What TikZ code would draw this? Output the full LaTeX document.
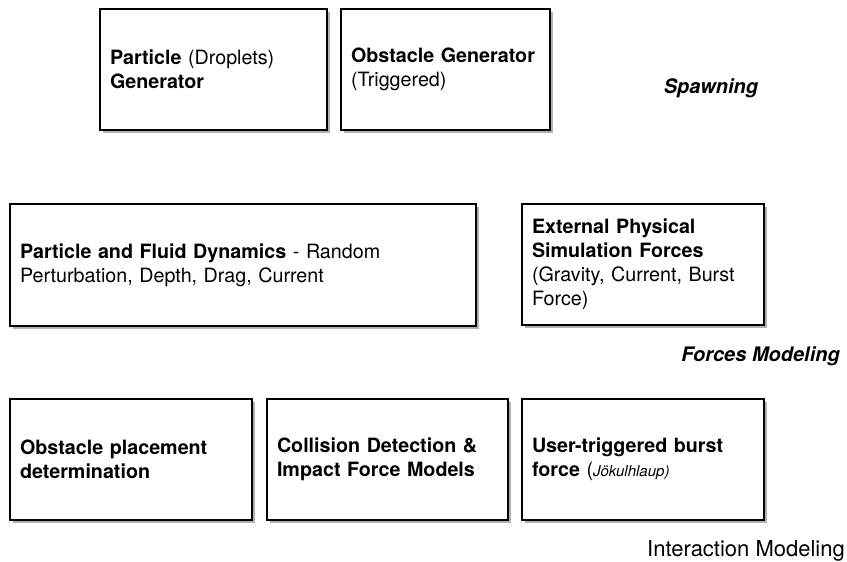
\documentclass[tikz,border=0pt]{standalone}
\usepackage{fontspec}
\setmainfont{TeX Gyre Heros}
\usetikzlibrary{shadows}
\begin{document}
\begin{tikzpicture}[x=1pt,y=-1pt,
  box/.style={draw, line width=1.4pt, fill=white, align=left, inner xsep=10pt, inner ysep=4pt,
    minimum height=121pt, drop shadow={shadow xshift=2.5pt, shadow yshift=-3pt, opacity=0.5, fill=black!60},
    font=\fontsize{19.7}{24}\selectfont},
  lbl/.style={inner sep=0pt, font=\fontsize{20}{24}\selectfont}]
\useasboundingbox (0,0) rectangle (847,562);
\node[box, text width=207pt] (pg) at (213.5,69.5) {\textbf{Particle} (Droplets)\\\textbf{Generator}};
\node[box, text width=189pt] (og) at (445.5,69.5) {\textbf{Obstacle Generator}\\(Triggered)};
\node[box, text width=446pt, minimum height=122pt] (pf) at (243,265) {\textbf{Particle and Fluid Dynamics} - Random\\Perturbation, Depth, Drag, Current};
\node[box, text width=222pt] (ef) at (643,264.5) {\textbf{External Physical}\\\textbf{Simulation Forces}\\(Gravity, Current, Burst\\Force)};
\node[box, text width=222pt] (op) at (131,459.5) {\textbf{Obstacle placement}\\\textbf{determination}};
\node[box, text width=221pt] (cd) at (387.5,459.5) {\textbf{Collision Detection \&}\\\textbf{Impact Force Models}};
\node[box, text width=222pt] (ub) at (643,459.5) {\textbf{User-triggered burst}\\\textbf{force} ({\fontsize{15}{18}\selectfont\itshape Jökulhlaup)}};
\node[lbl, font=\fontsize{20}{24}\selectfont\bfseries\itshape] (sp) at (711,88) {Spawning};
\node[lbl, font=\fontsize{20}{24}\selectfont\bfseries\itshape, anchor=east] (fm) at (840,356) {Forces Modeling};
\node[lbl, font=\fontsize{22}{24}\selectfont, anchor=east] (im) at (845,551) {Interaction Modeling};
\end{tikzpicture}
\end{document}
